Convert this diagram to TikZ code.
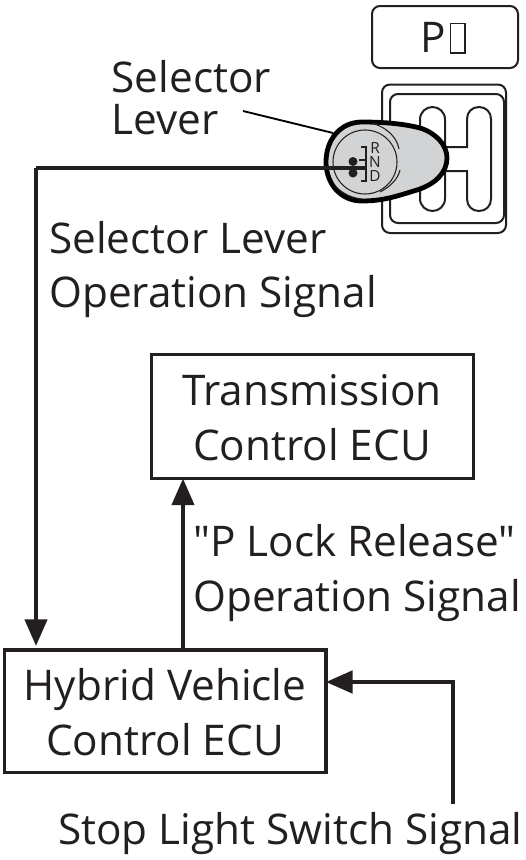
\documentclass[tikz,border=0pt]{standalone}
\usepackage{fontspec}
\newfontfamily\labelfont{Open Sans}
\usetikzlibrary{arrows.meta,calc}
\definecolor{ink}{HTML}{231F20}
\definecolor{knobgray}{HTML}{D1D3D4}
\tikzset{
  x=0.75pt,y=-0.75pt,
  lbl/.style={font=\labelfont\fontsize{31.7pt}{41pt}\selectfont,text=ink,inner sep=0pt,anchor=base west},
  clbl/.style={lbl,anchor=base},
  ecubox/.style={draw=ink,line width=2.7pt,fill=white,inner sep=0pt,outer sep=0pt},
  sig/.style={draw=ink,line width=3.3pt,-{Triangle[length=20pt,width=16.5pt]}},
  thinl/.style={draw=ink,line width=1.5pt},
  thinner/.style={draw=ink,line width=0.8pt},
  smalll/.style={font=\labelfont\fontsize{11.5pt}{11.5pt}\selectfont,text=ink,inner sep=0pt,anchor=base},
}
\begin{document}
\begin{tikzpicture}
\useasboundingbox (0,0) rectangle (525,860);
\fill[white] (0,0) rectangle (525,860);
% P display
\draw[thinl,rounded corners=6pt] (372,6) rectangle (518,68);
\node[clbl] (ptext) at (433,52) {P};
\draw[draw=ink,line width=1.3pt] (450.5,23.5) rectangle (465,53);
% gate
\draw[thinl,rounded corners=6pt] (382,84.5) rectangle (506,233);
\draw[thinl,rounded corners=6pt] (390,94) rectangle (504,223);
% slots
\draw[thinl] (420,119.5) .. controls (420,112) and (426,107) .. (432.5,107) .. controls (439,107) and (445,112) .. (445,119.5)
  -- (445,198.5) .. controls (445,206) and (439,211) .. (432.5,211) .. controls (426,211) and (420,206) .. (420,198.5) -- cycle;
\draw[thinl] (440,147) -- (467,147) -- (467,119) .. controls (467,112) and (472,107) .. (479,107) .. controls (486,107) and (491,112) .. (491,119)
  -- (491,199) .. controls (491,206) and (486,211) .. (479,211) .. controls (472,211) and (467,206) .. (467,199) -- (467,171) -- (440,171);
% knob
\draw[draw=black,line width=3.6pt,fill=knobgray]
  (362,122) .. controls (385,122) and (405,124) .. (420,128)
  .. controls (436,133) and (447,145) .. (447,158)
  .. controls (447,172) and (436,184) .. (417,190)
  .. controls (400,195) and (385,201) .. (362,201)
  .. controls (340,201) and (326,183) .. (326,162)
  .. controls (326,140) and (340,122) .. (362,122) -- cycle;
\draw[thinner] (365,162) circle[radius=32];
\draw[thinner] (373,123.5) .. controls (388,128) and (397,138) .. (399,149);
\draw[thinner] (400,170) .. controls (398,179) and (390,187) .. (380,192);
\draw[thinner] (335,186) .. controls (343,194) and (352,198) .. (362,199);
% RND
\node[smalll] (rlabel) at (375,153) {R};
\node[smalll] (nlabel) at (375,167) {N};
\node[smalll] (dlabel) at (375,181) {D};
\draw[thinner] (361,147) -- (366,147) -- (366,168);
\draw[thinner] (359,160) -- (366,160);
\draw[thinner] (366,168) -- (366,181) -- (361,181);
\fill[ink] (353,161.5) circle[radius=4.5];
\fill[ink] (353,173) circle[radius=4.5];
% labels
\node[lbl] (sel1) at (111.5,92) {Selector};
\node[lbl] (sel2) at (111.5,134) {Lever};
\coordinate (leaderstart) at (243,111);
\coordinate (leaderend) at (333,133);
\draw[draw=black,line width=1.4pt] (leaderstart) -- (leaderend);
\node[lbl] (op1) at (49,253) {Selector Lever};
\node[lbl] (op2) at (49,307) {Operation Signal};
\node[lbl] (rel1) at (193,556) {"P Lock Release"};
\node[lbl] (rel2) at (193,611) {Operation Signal};
\node[lbl] (stop) at (58,844) {Stop Light Switch Signal};
% boxes
\node[ecubox,minimum width=241.5pt,minimum height=93pt,anchor=north west] (tcu) at (151.5,354.5) {};
\node[clbl] (tcu1) at (312,405) {Transmission};
\node[clbl] (tcu2) at (312,460) {Control ECU};
\node[ecubox,minimum width=241pt,minimum height=92pt,anchor=north west] (hv) at (4.5,650) {};
\node[clbl] (hv1) at (165,700) {Hybrid Vehicle};
\node[clbl] (hv2) at (165,755) {Control ECU};
% connectors
\coordinate (levertap) at (367,168);
\coordinate (corner) at (36,168);
\coordinate (hvtop) at (36,646);
\draw[draw=ink,line width=3.3pt] (levertap) -- (corner);
\draw[sig] (corner) -- (hvtop);
\draw[sig] (183,650) -- (tcu.south -| 183,0);
\coordinate (stopstart) at (453,804);
\draw[sig] (stopstart) -- (453,682) -- (hv.east |- 0,682);
\end{tikzpicture}
\end{document}
